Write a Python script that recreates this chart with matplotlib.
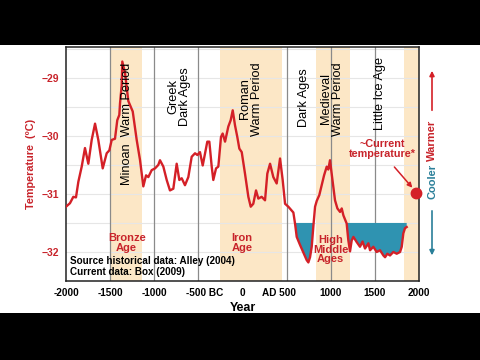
import numpy as np
import matplotlib
matplotlib.use("Agg")
import matplotlib.pyplot as plt
import matplotlib.transforms as mtransforms
from matplotlib.patches import Rectangle

plt.rcParams['font.family'] = ['Liberation Sans', 'DejaVu Sans']

# Nhiệt độ lõi băng Greenland
nam = [-2000, -1955, -1917, -1887, -1860, -1822, -1785, -1747, -1709, -1671,
       -1634, -1584, -1539, -1509, -1482, -1445, -1419, -1396, -1388, -1369,
       -1362, -1331, -1294, -1244, -1199, -1161, -1124, -1093, -1067, -1029,
       -991, -954, -935, -897, -859, -822, -784, -746, -716, -689,
       -652, -614, -576, -538, -512, -482, -451, -425, -399, -376,
       -349, -331, -300, -274, -244, -225, -198, -161, -134, -111,
       -85, -59, -36, -9, 28, 66, 93, 122, 153, 179,
       217, 255, 281, 312, 349, 387, 425, 455, 482, 519,
       576, 595, 614, 652, 689, 727, 746, 765, 784, 803,
       822, 841, 870, 897, 924, 954, 972, 991, 1010, 1029,
       1048, 1075, 1105, 1124, 1143, 1180, 1199, 1218, 1237, 1256,
       1294, 1331, 1360, 1388, 1426, 1445, 1482, 1520, 1558, 1596,
       1615, 1641, 1671, 1709, 1747, 1785, 1804, 1822, 1841, 1860]
nhiet_do = [-31.22, -31.16, -31.05, -31.06, -30.79, -30.53, -30.21, -30.48, -30.07, -29.79,
            -30.07, -30.56, -30.30, -30.25, -30.07, -30.05, -29.73, -29.64, -29.44, -29.13,
            -28.72, -28.92, -29.40, -29.58, -30.07, -30.42, -30.87, -30.68, -30.71, -30.59,
            -30.56, -30.50, -30.42, -30.53, -30.76, -30.94, -30.91, -30.48, -30.76, -30.73,
            -30.85, -30.71, -30.36, -30.30, -30.33, -30.28, -30.51, -30.30, -30.10, -30.10,
            -30.53, -30.76, -30.56, -30.53, -30.02, -29.96, -30.10, -29.84, -29.73, -29.56,
            -29.82, -30.02, -30.22, -30.28, -30.65, -31.05, -31.22, -31.17, -30.94, -31.08,
            -31.05, -31.11, -30.65, -30.48, -30.71, -30.82, -30.39, -30.76, -31.17, -31.22,
            -31.32, -31.51, -31.74, -31.88, -32.01, -32.14, -32.18, -32.09, -31.91, -31.55,
            -31.22, -31.12, -31.02, -30.85, -30.68, -30.53, -30.58, -30.42, -30.65, -30.88,
            -31.11, -31.25, -31.31, -31.25, -31.37, -31.51, -31.80, -31.99, -31.80, -31.74,
            -31.83, -31.91, -31.82, -31.94, -31.85, -31.97, -31.91, -32.00, -31.97, -32.06,
            -32.09, -32.03, -32.06, -32.00, -32.03, -32.00, -31.91, -31.68, -31.59, -31.57]

nguong_lanh = -31.5
nhiet_do_hien_tai = (1962, -30.98)

# Các giai đoạn ấm (vùng tô màu)
giai_doan_am = [(-1500, -1140), (-250, 450), (830, 1220), (1830, 2000)]
duong_doc = [-1500, -1000, -500, 500, 1000, 1500]

nhan_giai_doan = [("Minoan  Warm Period", -1313, -29.79),
                  ("Greek\nDark Ages", -720, -29.33),
                  ("Roman\nWarm Period", 96, -29.36),
                  ("Dark Ages", 697, -29.35),
                  ("Medieval\nWarm Period", 1014, -29.36),
                  ("Little Ice Age", 1558, -29.27)]
nhan_thoi_dai = [("Bronze\nAge", -1313, -31.85),
                 ("Iron\nAge", -9, -31.85),
                 ("High\nMiddle\nAges", 1000, -31.96)]

vi_tri_x = [-2000, -1500, -1000, -500, 0, 500, 1000, 1500, 2000]
nhan_x = ['-2000', '-1500', '-1000', '-500 BC', '0', 'AD 500', '1000', '1500', '2000']
vi_tri_y = [-32, -31, -30, -29]

do = '#d42027'
do_chu = '#c8242b'
xanh = '#2f93b1'
vang = '#fce7c6'

fig = plt.figure(figsize=(4.8, 3.6), dpi=100, facecolor='black')
fig.add_artist(Rectangle((0, 0.1306), 1, 0.744, transform=fig.transFigure,
                         facecolor='white', edgecolor='none', zorder=0))
ax = fig.add_axes([0.1375, 0.2194, 0.7355, 0.65])
ax.set_facecolor('white')

for a, b in giai_doan_am:
    ax.axvspan(a, b, color=vang, lw=0, zorder=0)
for yy in np.arange(-32.5, -28.4, 0.5):
    ax.axhline(yy, color='#e6e6e6', lw=0.8, zorder=1)
for xx in duong_doc:
    ax.axvline(xx, color='#8a8a8a', lw=0.9, zorder=1)

x = np.array(nam)
y = np.array(nhiet_do)
ax.fill_between(x, y, nguong_lanh, where=y < nguong_lanh, interpolate=True,
                color=xanh, lw=0, zorder=2)
ax.plot(x, y, color=do, lw=1.7, zorder=3)

ax.plot(*nhiet_do_hien_tai, 'o', color=do, ms=7.5, zorder=6, clip_on=False)
ax.annotate('', xy=(1945, -30.93), xytext=(1700, -30.5),
            arrowprops=dict(arrowstyle='-|>', color=do, lw=1.1, mutation_scale=7))
ax.text(1590, -30.22, "~Current\ntemperature*", color=do_chu, fontsize=7.8,
        fontweight='bold', ha='center', va='center', linespacing=1.0)

for txt, xx, yy in nhan_giai_doan:
    ax.text(xx, yy, txt, rotation=90, ha='center', va='center', fontsize=9.2,
            color='black', linespacing=0.95, zorder=5)
for txt, xx, yy in nhan_thoi_dai:
    ax.text(xx, yy, txt, ha='center', va='center', fontsize=8, fontweight='bold',
            color=do_chu, linespacing=0.95, zorder=5)

ax.text(0.012, 0.105, "Source historical data: Alley (2004)\nCurrent data: Box (2009)",
        transform=ax.transAxes, fontsize=7.1, fontweight='bold', va='top', ha='left',
        linespacing=1.1, zorder=5)

ax.set_xlim(-2000, 2000)
ax.set_ylim(-32.5, -28.47)
ax.set_xticks(vi_tri_x)
ax.set_xticklabels(nhan_x)
ax.set_yticks(vi_tri_y)
ax.tick_params(length=0, pad=5)
for lab in ax.get_xticklabels():
    lab.set_fontsize(7.2)
    lab.set_fontweight('bold')
for lab in ax.get_yticklabels():
    lab.set_fontsize(7.5)
    lab.set_fontweight('bold')
    lab.set_color(do_chu)
xl = ax.get_xticklabels()
xl[3].set_transform(xl[3].get_transform() + mtransforms.ScaledTranslation(6 / 100, 0, fig.dpi_scale_trans))
xl[5].set_transform(xl[5].get_transform() + mtransforms.ScaledTranslation(-8 / 100, 0, fig.dpi_scale_trans))

ax.set_xlabel('Year', fontsize=9, fontweight='bold', labelpad=3)
ax.set_ylabel('Temperature  (ºC)', fontsize=7.8, fontweight='bold', color=do_chu, labelpad=4)
for s in ax.spines.values():
    s.set_color('#222222')
    s.set_linewidth(1.1)

# Mũi tên Ấm hơn / Lạnh hơn bên phải
fig.text(0.9, 0.611, 'Warmer', rotation=90, ha='center', va='center', fontsize=8,
         fontweight='bold', color=do_chu)
fig.text(0.9, 0.496, 'Cooler', rotation=90, ha='center', va='center', fontsize=8,
         fontweight='bold', color='#2a7f99')
ax.annotate('', xy=(0.9, 0.811), xytext=(0.9, 0.686), xycoords='figure fraction',
            arrowprops=dict(arrowstyle='-|>', color=do, lw=1.2, mutation_scale=7))
ax.annotate('', xy=(0.9, 0.283), xytext=(0.9, 0.422), xycoords='figure fraction',
            arrowprops=dict(arrowstyle='-|>', color='#2a7f99', lw=1.2, mutation_scale=7))

fig.savefig('out.png', dpi=100, facecolor='black')
